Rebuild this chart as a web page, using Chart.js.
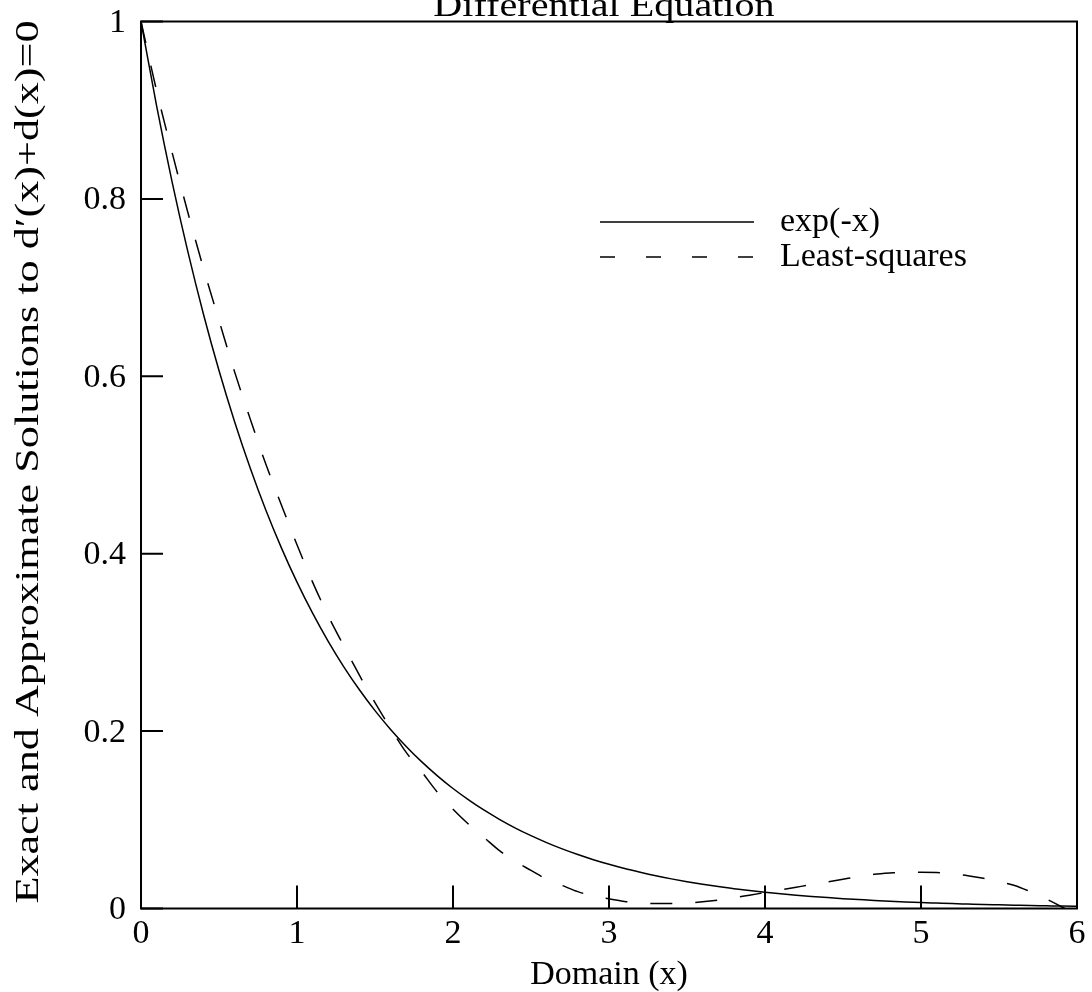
<!DOCTYPE html>
<html><head><meta charset="utf-8">
<script src="https://cdn.jsdelivr.net/npm/chart.js@4"></script>
<style>html,body{margin:0;padding:0;background:#fff;}canvas{display:block}</style>
</head><body>
<canvas id="c" width="1092" height="992"></canvas>
<script>
const xValues = [0,0.1,0.2,0.3,0.4,0.5,0.6,0.7,0.8,0.9,1.0,1.1,1.2,1.3,1.4,1.5,1.6,1.7,1.8,1.9,2.0,2.1,2.2,2.3,2.4,2.5,2.6,2.7,2.8,2.9,3.0,3.1,3.2,3.3,3.4,3.5,3.6,3.7,3.8,3.9,4.0,4.1,4.2,4.3,4.4,4.5,4.6,4.7,4.8,4.9,5.0,5.1,5.2,5.3,5.4,5.5,5.6,5.7,5.8,5.9,6.0];
const expValues = [1,0.9048,0.8187,0.7408,0.6703,0.6065,0.5488,0.4966,0.4493,0.4066,0.3679,0.3329,0.3012,0.2725,0.2466,0.2231,0.2019,0.1827,0.1653,0.1496,0.1353,0.1225,0.1108,0.1003,0.0907,0.0821,0.0743,0.0672,0.0608,0.0550,0.0498,0.0450,0.0408,0.0369,0.0334,0.0302,0.0273,0.0247,0.0224,0.0202,0.0183,0.0166,0.0150,0.0136,0.0123,0.0111,0.0101,0.0091,0.0082,0.0074,0.0067,0.0061,0.0055,0.0050,0.0045,0.0041,0.0037,0.0033,0.0030,0.0027,0.0025];
const leastSquaresValues = [1,0.922,0.852,0.785,0.722,0.663,0.605,0.552,0.501,0.455,0.410,0.368,0.330,0.296,0.263,0.232,0.203,0.176,0.154,0.131,0.112,0.095,0.080,0.065,0.053,0.043,0.033,0.026,0.019,0.014,0.011,0.008,0.0065,0.0055,0.0055,0.006,0.0075,0.0095,0.012,0.015,0.018,0.021,0.024,0.027,0.030,0.033,0.036,0.0385,0.040,0.041,0.041,0.0405,0.039,0.037,0.034,0.030,0.026,0.019,0.011,0.002,-0.008];
const xTickValues = [0,1,2,3,4,5,6];
const yTickValues = [0,0.2,0.4,0.6,0.8,1];
const seriesLabels = ['exp(-x)','Least-squares'];
const chartTitle = 'Differential Equation';
const xAxisTitle = 'Domain (x)';
const yAxisTitle = 'Exact and Approximate Solutions to d\u2032(x)+d(x)=0';

const FONT = "'Liberation Serif', 'Times New Roman', serif";

const framePlugin = {
  id: 'frame',
  afterDraw(chart) {
    const {ctx, chartArea: a, scales: {x, y}} = chart;
    ctx.save();
    ctx.strokeStyle = '#000';
    ctx.lineWidth = 2;
    ctx.strokeRect(a.left, a.top, a.right - a.left, a.bottom - a.top);
    ctx.beginPath();
    x.ticks.forEach(t => { const px = x.getPixelForValue(t.value); ctx.moveTo(px, a.bottom); ctx.lineTo(px, a.bottom - 23); });
    y.ticks.forEach(t => { const py = y.getPixelForValue(t.value); ctx.moveTo(a.left, py); ctx.lineTo(a.left + 22, py); });
    ctx.stroke();
    ctx.fillStyle = '#000';
    // chart title (cut off at top as in the original)
    ctx.save();
    ctx.font = '34px ' + FONT;
    ctx.textAlign = 'center';
    ctx.textBaseline = 'alphabetic';
    ctx.translate(604, 16);
    ctx.scale(1.18, 1);
    ctx.fillText(chartTitle, 0, 0);
    ctx.restore();
    // y-axis title (elongated as in the original)
    ctx.save();
    ctx.font = '34px ' + FONT;
    ctx.textAlign = 'center';
    ctx.textBaseline = 'middle';
    ctx.translate(29, 462);
    ctx.rotate(-Math.PI / 2);
    ctx.scale(1.3, 1);
    ctx.fillText(yAxisTitle, 0, 0);
    ctx.restore();
    // legend
    ctx.font = '34px ' + FONT;
    const ds = chart.data.datasets;
    const rows = [222, 257];
    ds.forEach((d, i) => {
      ctx.beginPath();
      ctx.lineWidth = 1.5;
      ctx.setLineDash(i === 1 ? [15, 31] : []);
      ctx.moveTo(600, rows[i]);
      ctx.lineTo(754, rows[i]);
      ctx.stroke();
      ctx.setLineDash([]);
      ctx.textAlign = 'left';
      ctx.textBaseline = 'middle';
      ctx.fillText(d.label, 780, rows[i]);
    });
    ctx.restore();
  }
};

const chart = new Chart(document.getElementById('c'), {
  type: 'line',
  data: {
    datasets: [
      { label: seriesLabels[0], data: xValues.map((v, i) => ({x: v, y: expValues[i]})), borderColor: '#000', borderWidth: 1.5, pointRadius: 0, cubicInterpolationMode: 'monotone', fill: false },
      { label: seriesLabels[1], data: xValues.map((v, i) => ({x: v, y: leastSquaresValues[i]})), borderColor: '#000', borderWidth: 1.5, borderDash: [22, 23], pointRadius: 0, cubicInterpolationMode: 'monotone', fill: false }
    ]
  },
  options: {
    responsive: false,
    animation: false,
    events: [],
    layout: { padding: { top: 21.5, right: 15, bottom: 0, left: 0 } },
    plugins: { legend: { display: false }, tooltip: { enabled: false }, title: { display: false } },
    scales: {
      x: {
        type: 'linear', min: 0, max: 6,
        afterBuildTicks: s => { s.ticks = xTickValues.map(v => ({value: v})); },
        afterFit: s => { s.height = 83.5; s.paddingLeft = 0; s.paddingRight = 0; },
        ticks: { color: '#000', font: { family: FONT, size: 34 }, padding: 5, maxRotation: 0, autoSkip: false, callback: v => String(v) },
        grid: { display: false, drawTicks: false },
        border: { display: false },
        title: { display: true, text: xAxisTitle, color: '#000', font: { family: FONT, size: 34 }, padding: { top: 0, bottom: -3 } }
      },
      y: {
        min: 0, max: 1,
        afterBuildTicks: s => { s.ticks = yTickValues.map(v => ({value: v})); },
        afterFit: s => { s.width = 141; s.paddingTop = 0; s.paddingBottom = 0; },
        ticks: { color: '#000', font: { family: FONT, size: 34 }, padding: 15, labelOffset: 1.5, autoSkip: false, callback: v => String(v) },
        grid: { display: false, drawTicks: false },
        border: { display: false },
        title: { display: false }
      }
    }
  },
  plugins: [framePlugin]
});
</script>
</body></html>
